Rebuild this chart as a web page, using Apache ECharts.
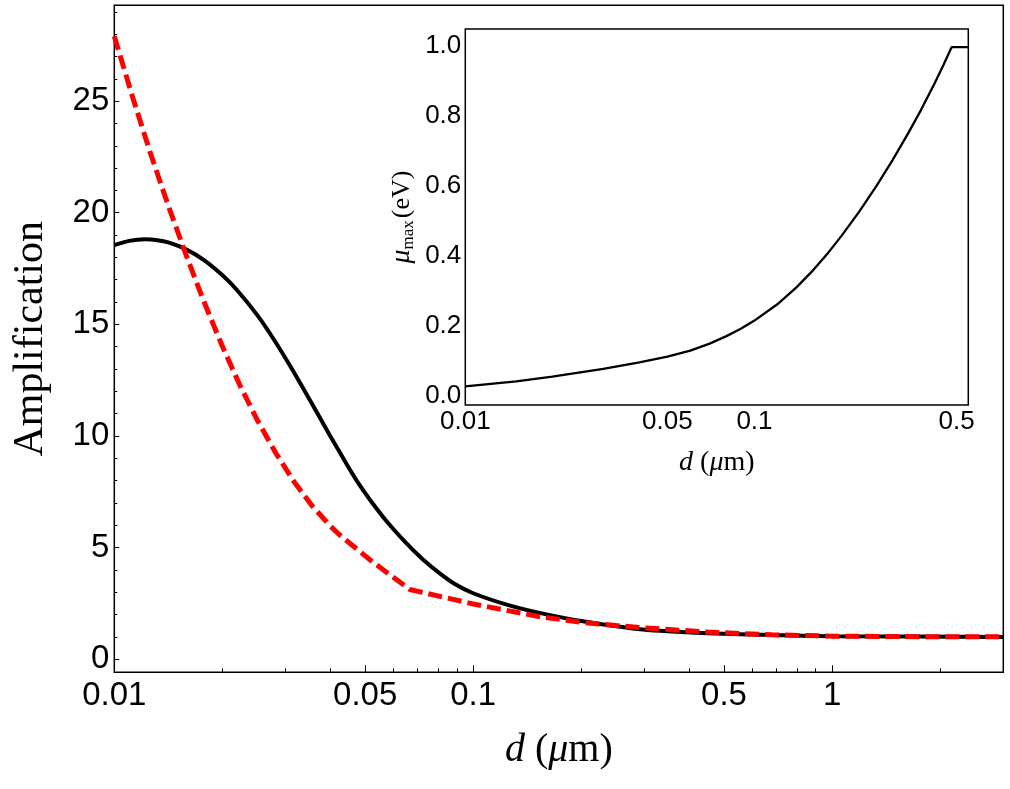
<!DOCTYPE html>
<html><head><meta charset="utf-8">
<script src="https://cdn.jsdelivr.net/npm/echarts@6/dist/echarts.min.js"></script>
<style>html,body{margin:0;padding:0;background:#fff}#c{width:1010px;height:789px}</style>
</head><body><div id="c"></div>
<script>
// ---- main panel data: d (um) vs amplification ----
const blackD   = [0.01, 0.011, 0.0122, 0.0132, 0.01413, 0.01585, 0.01778, 0.01995, 0.02193, 0.02512, 0.02818, 0.03162, 0.03548, 0.03981, 0.04467, 0.04786, 0.0515, 0.05754, 0.0652, 0.07244, 0.0807, 0.08913, 0.1, 0.124, 0.153, 0.2, 0.297, 0.45, 0.68, 1.0, 3.0];
const blackAmp = [18.55, 18.74, 18.81, 18.77, 18.67, 18.36, 17.88, 17.22, 16.55, 15.38, 14.19, 12.87, 11.47, 10.05, 8.67, 7.89, 7.16, 6.16, 5.19, 4.47, 3.85, 3.36, 2.96, 2.45, 2.08, 1.72, 1.34, 1.17, 1.085, 1.035, 1.005];
const redD     = [0.01, 0.01122, 0.01259, 0.01413, 0.01585, 0.0177, 0.02, 0.02239, 0.02512, 0.02818, 0.03162, 0.03548, 0.03981, 0.04246, 0.0526, 0.0666, 0.1, 0.1534, 0.2, 0.25, 0.3, 0.45, 0.68, 1.0, 2.0, 3.0];
const redAmp   = [27.9, 25.23, 22.70, 20.33, 18.11, 16.09, 14.02, 12.27, 10.67, 9.24, 7.98, 6.90, 6.00, 5.57, 4.35, 3.13, 2.48, 1.91, 1.66, 1.52, 1.41, 1.22, 1.10, 1.04, 1.01, 1.01];
// ---- inset data: d (um) vs mu_max (eV) ----
const insetD   = [0.01, 0.015, 0.02, 0.03, 0.04, 0.05, 0.06, 0.07, 0.08, 0.09, 0.1, 0.12, 0.14, 0.16, 0.18, 0.2, 0.23, 0.264, 0.3, 0.34, 0.3765, 0.42, 0.45, 0.481, 0.549];
const insetMu  = [0.028, 0.0426, 0.0558, 0.0782, 0.0969, 0.113, 0.1302, 0.1503, 0.1717, 0.1936, 0.216, 0.2626, 0.3115, 0.3609, 0.41, 0.4579, 0.5265, 0.60, 0.6735, 0.7506, 0.817, 0.8934, 0.9448, 0.997, 0.997];
// ---- tick labels ----
const mainXMajor = [0.01, 0.05, 0.1, 0.5, 1];
const mainXMajorLabels = ['0.01', '0.05', '0.1', '0.5', '1'];
const mainXMinor = [0.02, 0.03, 0.04, 0.06, 0.07, 0.08, 0.09, 0.2, 0.3, 0.4, 0.6, 0.7, 0.8, 0.9, 2, 3];
const mainYMajor = [0, 5, 10, 15, 20, 25];
const mainYMinor = [1,2,3,4,6,7,8,9,11,12,13,14,16,17,18,19,21,22,23,24,26,27,28,29];
const insetXMajor = [0.01, 0.05, 0.1, 0.5];
const insetXMajorLabels = ['0.01', '0.05', '0.1', '0.5'];
const insetXMinor = [0.02, 0.03, 0.04, 0.06, 0.07, 0.08, 0.09, 0.2, 0.3, 0.4];
const insetYMajor = [0, 0.2, 0.4, 0.6, 0.8, 1.0];
const insetYMinor = [0.05,0.1,0.15,0.25,0.3,0.35,0.45,0.5,0.55,0.65,0.7,0.75,0.85,0.9,0.95];

const L = Math.log10;
function labelFor(vals, labels) {
  return function (v) {
    let best = 0, bd = Infinity;
    vals.forEach((x, i) => { const dd = Math.abs(L(x) - v); if (dd < bd) { bd = dd; best = i; } });
    return bd < 1e-6 ? labels[best] : '';
  };
}
const SANS = 'Liberation Sans, Arial, sans-serif';
const SERIF = 'Liberation Serif, Times New Roman, serif';

const chart = echarts.init(document.getElementById('c'), null, {renderer: 'canvas'});
const baseX = (gi, ticks, len, showLabels, labelVals, labelTexts, fs, margin) => ({
  type: 'value', gridIndex: gi, position: 'bottom', offset: 0,
  min: L(0.01), max: gi === 0 ? L(3) : L(0.549),
  axisLine: {show: false, onZero: false}, splitLine: {show: false},
  axisTick: {show: true, inside: true, length: len, lineStyle: {color: '#000', width: 1}, customValues: ticks.map(L)},
  axisLabel: showLabels ? {show: true, customValues: labelVals.map(L), formatter: labelFor(labelVals, labelTexts), color: '#000', fontFamily: SANS, fontSize: fs, margin: margin} : {show: false}
});
const baseY = (gi, ticks, len, showLabels, fmt, fs, margin, min, max) => ({
  type: 'value', gridIndex: gi, position: 'left', offset: 0, min: min, max: max,
  axisLine: {show: false, onZero: false}, splitLine: {show: false},
  axisTick: {show: true, inside: true, length: len, lineStyle: {color: '#000', width: 1}, customValues: ticks},
  axisLabel: showLabels ? {show: true, customValues: ticks, formatter: fmt, color: '#000', fontFamily: SANS, fontSize: fs, margin: margin} : {show: false}
});

const xMain = baseX(0, mainXMajor, 7, true, mainXMajor, mainXMajorLabels, 33, 7);
xMain.name = '{i|d}{n| (}{i|μ}{n|m)}';
xMain.nameLocation = 'middle';
xMain.nameGap = 58;
xMain.nameTextStyle = {rich: {i: {fontFamily: SERIF, fontStyle: 'italic', fontSize: 40, color: '#000'}, n: {fontFamily: SERIF, fontSize: 40, color: '#000'}}};
const xMainMinor = baseX(0, mainXMinor, 4, false);
const xIn = baseX(1, insetXMajor, 5, true, insetXMajor, insetXMajorLabels, 26, 4);
xIn.name = '{i|d}{n| (}{i|μ}{n|m)}';
xIn.nameLocation = 'middle';
xIn.nameGap = 44;
xIn.nameTextStyle = {rich: {i: {fontFamily: SERIF, fontStyle: 'italic', fontSize: 28, color: '#000'}, n: {fontFamily: SERIF, fontSize: 28, color: '#000'}}};
const xInMinor = baseX(1, insetXMinor, 3, false);

const yMain = baseY(0, mainYMajor, 5, true, v => String(v), 33, 5, -0.58, 29.29);
yMain.name = 'Amplification';
yMain.nameLocation = 'middle';
yMain.nameGap = 62;
yMain.nameTextStyle = {fontFamily: SERIF, fontSize: 42, color: '#000'};
const yMainMinor = baseY(0, mainYMinor, 3, false, null, 0, 0, -0.58, 29.29);
const yIn = baseY(1, insetYMajor, 5, true, v => v.toFixed(1), 26, 4, -0.025, 1.0485);
yIn.name = '{m|μ}{s|max}{n|(eV)}';
yIn.nameLocation = 'middle';
yIn.nameGap = 48;
yIn.nameTextStyle = {rich: {
  m: {fontFamily: SERIF, fontStyle: 'italic', fontSize: 28, color: '#000'},
  s: {fontFamily: SERIF, fontSize: 17, color: '#000', padding: [14, 2, 0, 0]},
  n: {fontFamily: SERIF, fontSize: 26, color: '#000'}
}};
const yInMinor = baseY(1, insetYMinor, 3, false, null, 0, 0, -0.025, 1.0485);

chart.setOption({
  animation: false,
  backgroundColor: '#fff',
  grid: [
    {left: 114.3, right: 6.7, top: 5.3, bottom: 116.7, show: true, borderColor: '#000', borderWidth: 1.5, backgroundColor: 'transparent', z: 0},
    {left: 465.3, right: 41.7, top: 29, bottom: 384, show: true, borderColor: '#000', borderWidth: 1.5, backgroundColor: '#fff', z: 5}
  ],
  xAxis: [xMain, xMainMinor, xIn, xInMinor],
  yAxis: [yMain, yMainMinor, yIn, yInMinor],
  series: [
    {type: 'line', xAxisIndex: 0, yAxisIndex: 0, data: blackD.map((d, i) => [L(d), blackAmp[i]]), showSymbol: false, smooth: 0.15, lineStyle: {color: '#000', width: 4}, z: 2},
    {type: 'line', xAxisIndex: 0, yAxisIndex: 0, data: redD.map((d, i) => [L(d), redAmp[i]]), showSymbol: false, smooth: false, lineStyle: {color: '#ff0000', width: 5, type: [14, 6]}, z: 3},
    {type: 'line', xAxisIndex: 2, yAxisIndex: 2, data: insetD.map((d, i) => [L(d), insetMu[i]]), showSymbol: false, smooth: false, lineStyle: {color: '#000', width: 2.3}, z: 6}
  ]
});
</script>
</body></html>
